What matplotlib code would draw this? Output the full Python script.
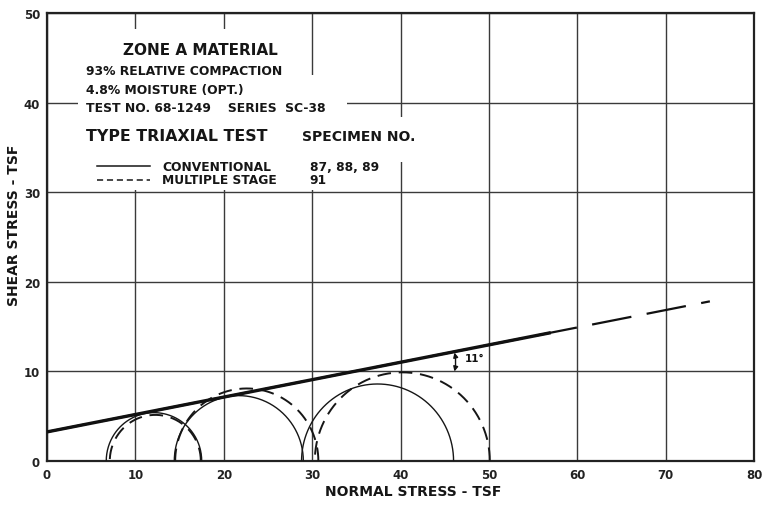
import numpy as np
import matplotlib
matplotlib.use("Agg")
import matplotlib.pyplot as plt
from matplotlib.patches import Rectangle

# Mohr circles: (minor principal stress, major principal stress), TSF
conventional_circles = [(6.7, 17.5), (14.4, 29.0), (28.8, 46.0)]
multiple_stage_circles = [(7.1, 17.4), (14.5, 30.7), (30.3, 50.1)]

# Failure envelope: cohesion intercept (TSF) and friction angle (deg)
cohesion = 3.25
friction_angle = 11.0
envelope_solid_end = 57.0
envelope_dashed_end = 75.0

x_ticks = [0, 10, 20, 30, 40, 50, 60, 70, 80]
y_ticks = [0, 10, 20, 30, 40, 50]

header_lines = ["93% RELATIVE COMPACTION",
                "4.8% MOISTURE (OPT.)",
                "TEST NO. 68-1249    SERIES  SC-38"]
legend_rows = [("CONVENTIONAL", "87, 88, 89", "-"),
               ("MULTIPLE STAGE", "91", "--")]

plt.rcParams['font.family'] = ['DejaVu Sans']
INK = '#161616'

fig = plt.figure(figsize=(7.66, 5.10), dpi=100)
ax = fig.add_axes([0.0614, 0.0941, 0.923, 0.878])
ax.set_xlim(0, 80)
ax.set_ylim(0, 50)
ax.set_xticks(x_ticks)
ax.set_yticks(y_ticks)
ax.tick_params(length=0, labelsize=8.5, pad=5)
for lbl in ax.get_xticklabels() + ax.get_yticklabels():
    lbl.set_fontweight('bold')
    lbl.set_color('#222222')
ax.grid(True, color='#3a3a3a', lw=1.0)
ax.set_axisbelow(True)
for s in ax.spines.values():
    s.set_linewidth(1.6)
    s.set_color('#222222')

# erased grid behind the title block
for (x0, y0, w, h) in [(3.45, 30.25, 25.2, 17.95),
                       (28.6, 30.25, 5.3, 12.85),
                       (33.9, 33.4, 8.3, 5.0)]:
    ax.add_patch(Rectangle((x0, y0), w, h, facecolor='white',
                           edgecolor='none', zorder=1.5))

theta = np.linspace(0, np.pi, 300)


def draw_circle(s3, s1, **kw):
    c = (s1 + s3) / 2.0
    r = (s1 - s3) / 2.0
    ax.plot(c + r * np.cos(theta), r * np.sin(theta), **kw)


for s3, s1 in conventional_circles:
    draw_circle(s3, s1, color=INK, lw=1.0, zorder=3)
for s3, s1 in multiple_stage_circles:
    draw_circle(s3, s1, color=INK, lw=1.4, zorder=3,
                linestyle=(0, (7, 4)))

slope = np.tan(np.radians(friction_angle))
xs = np.array([0.0, envelope_solid_end])
ax.plot(xs, cohesion + slope * xs, color='#111111', lw=2.4,
        solid_capstyle='butt', zorder=4)
xd = np.array([0.0, envelope_dashed_end])
ax.plot(xd, cohesion + slope * xd, color='#111111', lw=1.6,
        linestyle=(0, (18, 7)), zorder=4)

# friction angle marker
xa = 46.1
ax.annotate('', xy=(xa, cohesion + slope * xa - 0.1), xytext=(xa, 10.0),
            arrowprops=dict(arrowstyle='<|-|>', color='#111111', lw=1.0,
                            mutation_scale=7,
                            connectionstyle='arc3,rad=0.12',
                            shrinkA=0, shrinkB=0), zorder=5)
ax.text(47.3, 11.5, "11°", fontsize=7.5, va='center', ha='left',
        color='#111111', zorder=5, fontweight='bold')

# title block
tkw = dict(color=INK, zorder=5, fontweight='bold', va='center')
ax.text(17.3, 46.0, "ZONE A MATERIAL", fontsize=11, ha='center', **tkw)
for line, yy in zip(header_lines, [43.6, 41.5, 39.5]):
    ax.text(4.36, yy, line, fontsize=8.9, ha='left', **tkw)
ax.text(4.36, 36.3, "TYPE TRIAXIAL TEST", fontsize=11.3, ha='left', **tkw)
ax.text(28.8, 36.3, "SPECIMEN NO.", fontsize=10.0, ha='left', **tkw)
for (name, spec, ls), yy in zip(legend_rows, [32.9, 31.4]):
    if ls == '-':
        ax.plot([5.6, 11.6], [yy, yy], color=INK, lw=1.1, zorder=5)
    else:
        ax.plot([5.6, 11.6], [yy, yy], color=INK, lw=1.1, zorder=5,
                linestyle=(0, (4, 2.5)))
    ax.text(13.0, yy, name, fontsize=8.8, ha='left', **tkw)
    ax.text(29.7, yy, spec, fontsize=8.8, ha='left', **tkw)

fig.text(413 / 766, 1 - 492 / 510, "NORMAL STRESS - TSF", fontsize=10,
         ha='center', va='center', color=INK, fontweight='bold')
fig.text(14 / 766, 1 - 225 / 510, "SHEAR STRESS - TSF", fontsize=10,
         ha='center', va='center', rotation=90, color=INK,
         fontweight='bold')

fig.savefig("out.png", dpi=100, facecolor='white')
